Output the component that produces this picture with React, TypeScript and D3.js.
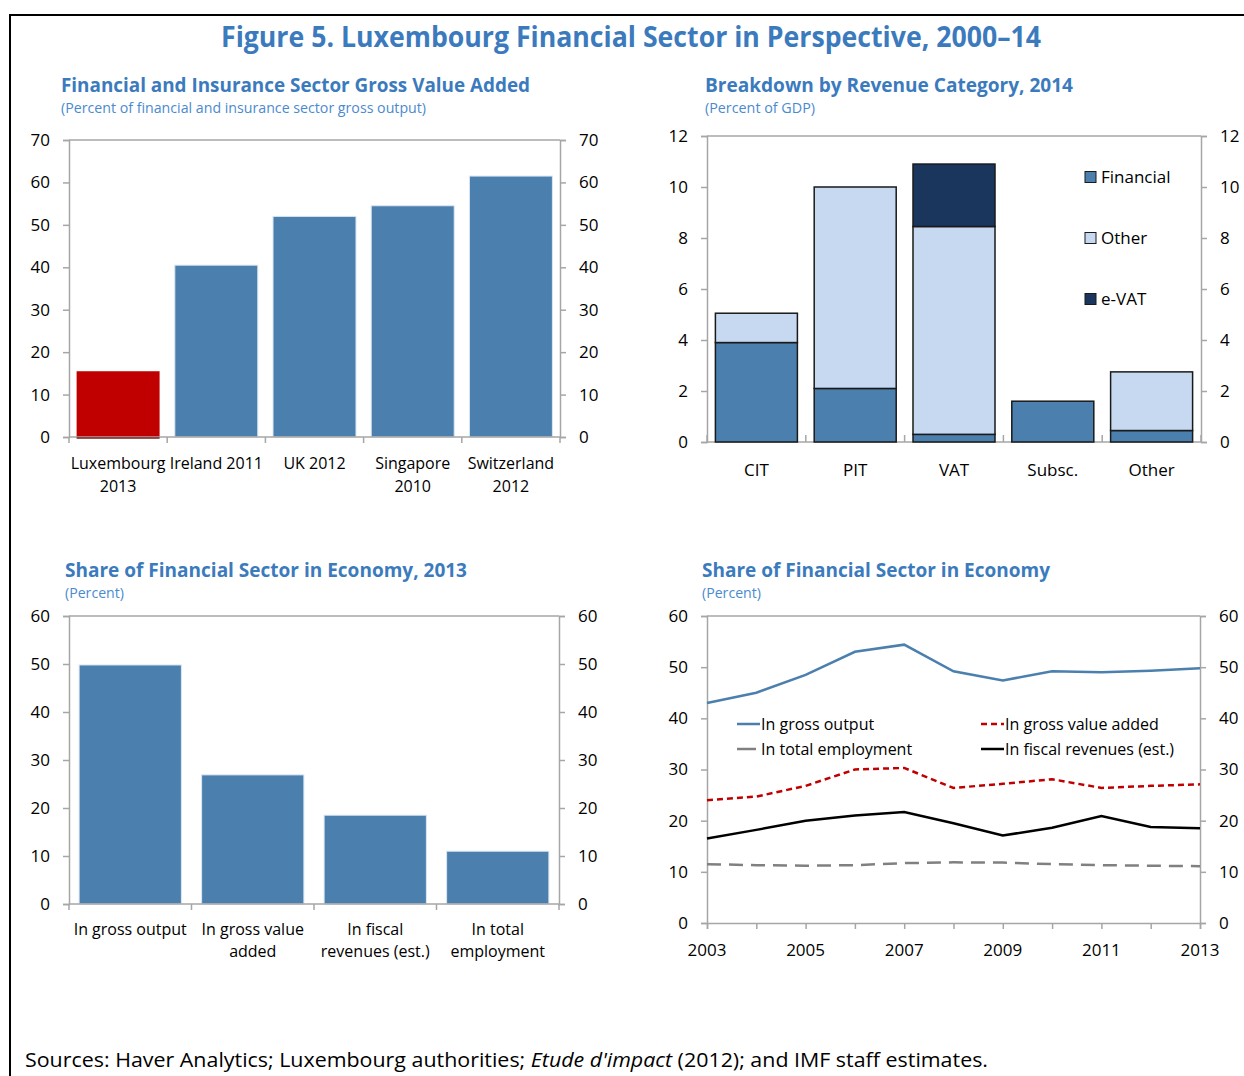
import React, { useRef, useEffect } from "react";
import * as d3 from "d3";

const width = 1244;
const height = 1076;
const font = "'Open Sans', 'Noto Sans', sans-serif";
const axisGray = "#a6a6a6";
const barBlue = "#4a7fae";
const titleBlue = "#3b7bbd";

// top left: GVA share of gross output
const gvaCountries = ["Luxembourg\n2013", "Ireland 2011", "UK 2012", "Singapore\n2010", "Switzerland\n2012"];
const gvaValues = [15.5, 40.5, 52, 54.5, 61.5];
const gvaTicks = [0, 10, 20, 30, 40, 50, 60, 70];

// top right: revenue breakdown
const revCategories = ["CIT", "PIT", "VAT", "Subsc.", "Other"];
const revFinancial = [3.9, 2.1, 0.3, 1.6, 0.45];
const revOther = [1.15, 7.9, 8.15, 0, 2.3];
const revEvat = [0, 0, 2.45, 0, 0];
const revTicks = [0, 2, 4, 6, 8, 10, 12];
const revSeries = ["Financial", "Other", "e-VAT"];
const revColors = ["#4a7fae", "#c6d9f0", "#1b365d"];

// bottom left: share in economy 2013
const shareCategories = ["In gross output", "In gross value\nadded", "In fiscal\nrevenues (est.)", "In total\nemployment"];
const shareValues = [49.8, 26.9, 18.5, 11.0];
const shareTicks = [0, 10, 20, 30, 40, 50, 60];

// bottom right: share over time
const years = [2003, 2004, 2005, 2006, 2007, 2008, 2009, 2010, 2011, 2012, 2013];
const yearLabels = [2003, 2005, 2007, 2009, 2011, 2013];
const grossOutput = [43.0, 45.0, 48.5, 53.0, 54.4, 49.2, 47.4, 49.2, 49.0, 49.3, 49.8];
const grossValueAdded = [24.0, 24.7, 26.8, 30.0, 30.3, 26.4, 27.2, 28.1, 26.4, 26.8, 27.1];
const fiscalRevenues = [16.5, 18.2, 20.0, 21.0, 21.7, 19.5, 17.1, 18.6, 20.9, 18.75, 18.5];
const totalEmployment = [11.5, 11.3, 11.2, 11.3, 11.7, 11.85, 11.8, 11.5, 11.3, 11.2, 11.1];

const lineSeries = [
  { name: "In gross output", values: grossOutput, color: "#4a7fae", dash: null, legendDash: null, lx: 737, ly: 724 },
  { name: "In gross value added", values: grossValueAdded, color: "#c00000", dash: "6,4", legendDash: "6,4", lx: 981, ly: 724 },
  { name: "In total employment", values: totalEmployment, color: "#808080", dash: "14,8", legendDash: "19,30", lx: 737, ly: 749 },
  { name: "In fiscal revenues (est.)", values: fiscalRevenues, color: "#000000", dash: null, legendDash: null, lx: 981, ly: 749 },
];

// frame with top line, left/right axes and outward ticks
const drawFrame = (svg, x0, x1, y, ticks) => {
  const g = svg.append("g");
  const [top] = y.range().slice(-1);
  g.append("line")
    .attr("x1", x0).attr("x2", x1).attr("y1", top).attr("y2", top)
    .attr("stroke", axisGray).attr("stroke-width", 1.5);

  const left = g.append("g").attr("transform", `translate(${x0},0)`)
    .call(d3.axisLeft(y).tickValues(ticks).tickSize(6).tickPadding(13).tickFormat(d3.format("d")));
  const right = g.append("g").attr("transform", `translate(${x1},0)`)
    .call(d3.axisRight(y).tickValues(ticks).tickSize(6).tickPadding(13).tickFormat(d3.format("d")));
  [left, right].forEach((a) => {
    a.select(".domain").attr("stroke", axisGray).attr("stroke-width", 1.5);
    a.selectAll(".tick line").attr("stroke", axisGray).attr("stroke-width", 1.5);
    a.selectAll(".tick text").style("font", `17px ${font}`).attr("fill", "#000");
  });
};

const drawCategoryLabels = (svg, x, cats, y1, lineH, size) => {
  cats.forEach((c) => {
    const t = svg.append("text")
      .attr("text-anchor", "middle")
      .style("font", `${size}px ${font}`)
      .attr("fill", "#000");
    c.split("\n").forEach((line, i) => {
      t.append("tspan")
        .attr("x", x(c) + x.bandwidth() / 2)
        .attr("y", y1 + i * lineH)
        .attr("dy", "0.35em")
        .text(line);
    });
  });
};

const drawBoundaryTicks = (svg, x, y0, len) => {
  const [r0, r1] = x.range();
  const step = x.step();
  const n = x.domain().length;
  d3.range(n + 1).forEach((i) => {
    const xx = r0 + i * step;
    svg.append("line")
      .attr("x1", xx).attr("x2", xx).attr("y1", y0).attr("y2", y0 + len)
      .attr("stroke", axisGray).attr("stroke-width", 1.5);
  });
  svg.append("line")
    .attr("x1", r0).attr("x2", r1).attr("y1", y0).attr("y2", y0)
    .attr("stroke", axisGray).attr("stroke-width", 1.5);
};

const drawHeading = (svg, x, y, title, titleLen, sub, subLen) => {
  svg.append("text")
    .attr("x", x).attr("y", y).attr("dy", "0.35em")
    .attr("textLength", titleLen).attr("lengthAdjust", "spacingAndGlyphs")
    .style("font", `bold 20px ${font}`)
    .attr("fill", titleBlue)
    .text(title);
  svg.append("text")
    .attr("x", x).attr("y", y + 23).attr("dy", "0.35em")
    .attr("textLength", subLen).attr("lengthAdjust", "spacingAndGlyphs")
    .style("font", `14px ${font}`)
    .attr("fill", "#4a8ad0")
    .text(sub);
};

const App = () => {
  const ref = useRef(null);

  useEffect(() => {
    const svg = d3.select(ref.current);
    svg.selectAll("*").remove();

    svg.append("rect").attr("width", width).attr("height", height).attr("fill", "#fff");

    // outer frame
    svg.append("path")
      .attr("d", `M${width},15 H10 V${height}`)
      .attr("fill", "none").attr("stroke", "#000").attr("stroke-width", 2);

    svg.append("text")
      .attr("x", 631).attr("y", 37).attr("dy", "0.35em")
      .attr("text-anchor", "middle")
      .attr("textLength", 820).attr("lengthAdjust", "spacingAndGlyphs")
      .style("font", `bold 28px ${font}`)
      .attr("fill", titleBlue)
      .text("Figure 5. Luxembourg Financial Sector in Perspective, 2000–14");

    // ---- chart 1
    drawHeading(svg, 61, 85, "Financial and Insurance Sector Gross Value Added", 469,
      "(Percent of financial and insurance sector gross output)", 365);
    const x1 = d3.scaleBand().domain(gvaCountries).range([69, 560]).paddingInner(0.155).paddingOuter(0.0775);
    const y1 = d3.scaleLinear().domain([0, 70]).range([437, 140]);
    drawFrame(svg, 69, 560, y1, gvaTicks);
    svg.append("g").selectAll("rect")
      .data(gvaValues)
      .join("rect")
      .attr("x", (d, i) => x1(gvaCountries[i]))
      .attr("width", x1.bandwidth())
      .attr("y", (d) => y1(d))
      .attr("height", (d) => y1(0) - y1(d))
      .attr("fill", (d, i) => (i === 0 ? "#c00000" : barBlue))
      .attr("stroke", (d, i) => (i === 0 ? "none" : "#dce7f2"))
      .attr("stroke-width", 1);
    drawBoundaryTicks(svg, x1, 437, 6);
    // dark base line under the Luxembourg bar
    svg.append("line")
      .attr("x1", x1(gvaCountries[0])).attr("x2", x1(gvaCountries[0]) + x1.bandwidth())
      .attr("y1", y1(0) + 1).attr("y2", y1(0) + 1)
      .attr("stroke", "#7a1a1a").attr("stroke-width", 1.5);
    drawCategoryLabels(svg, x1, gvaCountries, 463, 23, 16);

    // ---- chart 2
    drawHeading(svg, 705, 85, "Breakdown by Revenue Category, 2014", 368, "(Percent of GDP)", 110);
    const x2 = d3.scaleBand().domain(revCategories).range([707, 1201]).paddingInner(0.17).paddingOuter(0.085);
    const y2 = d3.scaleLinear().domain([0, 12]).range([442, 136]);
    drawFrame(svg, 707, 1201, y2, revTicks);
    const table = revCategories.map((c, i) => ({
      cat: c, Financial: revFinancial[i], Other: revOther[i], "e-VAT": revEvat[i],
    }));
    const stacked = d3.stack().keys(revSeries)(table);
    drawBoundaryTicks(svg, x2, 442, -7);
    svg.append("g").selectAll("g")
      .data(stacked)
      .join("g")
      .attr("fill", (d, i) => revColors[i])
      .selectAll("rect")
      .data((d) => d.filter((p) => p[1] - p[0] > 0))
      .join("rect")
      .attr("x", (d) => x2(d.data.cat))
      .attr("width", x2.bandwidth())
      .attr("y", (d) => y2(d[1]))
      .attr("height", (d) => y2(d[0]) - y2(d[1]))
      .attr("stroke", "#1a1a1a")
      .attr("stroke-width", 1.5);
    drawCategoryLabels(svg, x2, revCategories, 470, 22, 17);
    const legend2 = svg.append("g");
    revSeries.forEach((s, i) => {
      const ly = 177 + i * 61;
      legend2.append("rect")
        .attr("x", 1085).attr("y", ly - 5.5).attr("width", 11).attr("height", 11)
        .attr("fill", revColors[i]).attr("stroke", "#1a1a1a").attr("stroke-width", 1);
      legend2.append("text")
        .attr("x", 1101).attr("y", ly).attr("dy", "0.35em")
        .style("font", `17px ${font}`)
        .text(s);
    });

    // ---- chart 3
    drawHeading(svg, 65, 570, "Share of Financial Sector in Economy, 2013", 402, "(Percent)", 59);
    const x3 = d3.scaleBand().domain(shareCategories).range([69, 559]).paddingInner(0.165).paddingOuter(0.0825);
    const y3 = d3.scaleLinear().domain([0, 60]).range([904, 616]);
    drawFrame(svg, 69, 559, y3, shareTicks);
    svg.append("g").selectAll("rect")
      .data(shareValues)
      .join("rect")
      .attr("x", (d, i) => x3(shareCategories[i]))
      .attr("width", x3.bandwidth())
      .attr("y", (d) => y3(d))
      .attr("height", (d) => y3(0) - y3(d))
      .attr("fill", barBlue)
      .attr("stroke", "#dce7f2")
      .attr("stroke-width", 1);
    drawBoundaryTicks(svg, x3, 904, 6);
    drawCategoryLabels(svg, x3, shareCategories, 929, 22, 16);

    // ---- chart 4
    drawHeading(svg, 702, 570, "Share of Financial Sector in Economy", 348, "(Percent)", 59);
    const x4 = d3.scaleLinear().domain([2003, 2013]).range([707, 1200]);
    const y4 = d3.scaleLinear().domain([0, 60]).range([923, 616]);
    drawFrame(svg, 707, 1200, y4, shareTicks);
    const bottom = svg.append("g").attr("transform", "translate(0,923)")
      .call(d3.axisBottom(x4).tickValues(years).tickSize(6).tickFormat(() => ""));
    bottom.select(".domain").attr("stroke", axisGray).attr("stroke-width", 1.5);
    bottom.selectAll(".tick line").attr("stroke", axisGray).attr("stroke-width", 1.5);
    svg.append("g").selectAll("text")
      .data(yearLabels)
      .join("text")
      .attr("x", (d) => x4(d))
      .attr("y", 950)
      .attr("dy", "0.35em")
      .attr("text-anchor", "middle")
      .style("font", `17px ${font}`)
      .text((d) => d);

    const line = d3.line().x((d, i) => x4(years[i])).y((d) => y4(d));
    lineSeries.forEach((s) => {
      svg.append("path")
        .datum(s.values)
        .attr("d", line)
        .attr("fill", "none")
        .attr("stroke", s.color)
        .attr("stroke-width", 2.5)
        .attr("stroke-dasharray", s.dash);
      svg.append("line")
        .attr("x1", s.lx).attr("x2", s.lx + 23).attr("y1", s.ly).attr("y2", s.ly)
        .attr("stroke", s.color).attr("stroke-width", 2.5)
        .attr("stroke-dasharray", s.legendDash);
      svg.append("text")
        .attr("x", s.lx + 24).attr("y", s.ly).attr("dy", "0.35em")
        .style("font", `16px ${font}`)
        .text(s.name);
    });

    // sources
    const src = svg.append("text")
      .attr("x", 25).attr("y", 1060).attr("dy", "0.35em")
      .attr("textLength", 963).attr("lengthAdjust", "spacingAndGlyphs")
      .style("font", `20px ${font}`);
    src.append("tspan").text("Sources: Haver Analytics; Luxembourg authorities; ");
    src.append("tspan").style("font-style", "italic").text("Etude d'impact");
    src.append("tspan").text(" (2012); and IMF staff estimates.");
  }, []);

  return (
    <svg
      ref={ref}
      width={width}
      height={height}
      style={{ position: "absolute", left: 0, top: 0, display: "block" }}
    />
  );
};

export default App;
